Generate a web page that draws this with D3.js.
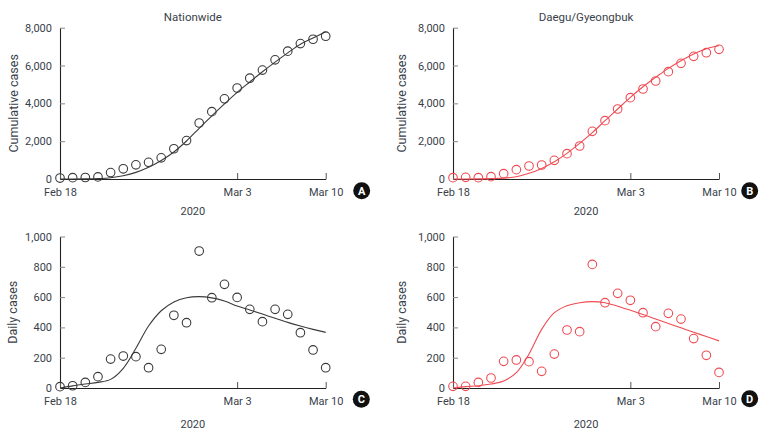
<!DOCTYPE html>
<html>
<head>
<meta charset="utf-8">
<script src="https://cdn.jsdelivr.net/npm/d3@7"></script>
<style>
  html, body { margin: 0; padding: 0; background: #fff; }
  svg { display: block; }
  text { font-family: Roboto, "Open Sans", sans-serif; fill: #3a3f4a; }
</style>
</head>
<body>
<svg id="chart" width="766" height="434"></svg>
<script>
// ---------- data ----------
const dates = ["2020-02-18","2020-02-19","2020-02-20","2020-02-21","2020-02-22","2020-02-23",
  "2020-02-24","2020-02-25","2020-02-26","2020-02-27","2020-02-28","2020-02-29","2020-03-01",
  "2020-03-02","2020-03-03","2020-03-04","2020-03-05","2020-03-06","2020-03-07","2020-03-08",
  "2020-03-09","2020-03-10"];
const xTickDates = ["2020-02-18", "2020-03-03", "2020-03-10"];
const xTickLabels = ["Feb 18", "Mar 3", "Mar 10"];
const cumTicks = [0, 2000, 4000, 6000, 8000];
const dailyTicks = [0, 200, 400, 600, 800, 1000];

// Nationwide
const nationCumObs = [50, 70, 80, 110, 340, 540, 750, 880, 1120, 1600, 2030, 2960, 3560, 4240,
  4810, 5330, 5760, 6300, 6760, 7160, 7390, 7550];
const nationCumFit = [0, 2, 8, 25, 70, 175, 350, 620, 980, 1430, 2010, 2680, 3340, 3970, 4580,
  5130, 5670, 6180, 6670, 7130, 7460, 7780];
const nationDailyObs = [9, 15, 37, 75, 191, 211, 207, 134, 255, 480, 431, 904, 596, 684, 598,
  519, 438, 519, 486, 365, 251, 134];
const nationDailyFit = [0, 14, 26, 37, 57, 130, 262, 409, 510, 568, 596, 603, 595, 574, 541,
  515, 488, 460, 433, 409, 387, 367];

// Daegu/Gyeongbuk
const daeguCumObs = [70, 88, 70, 123, 282, 493, 687, 740, 987, 1339, 1744, 2520, 3084, 3700,
  4300, 4758, 5181, 5674, 6115, 6485, 6678, 6855];
const daeguCumFit = [0, 2, 8, 20, 45, 120, 300, 560, 915, 1357, 1885, 2450, 3084, 3700, 4317,
  4880, 5374, 5850, 6256, 6608, 6890, 7050];
const daeguDailyObs = [11, 11, 37, 66, 176, 185, 174, 110, 224, 383, 372, 816, 563, 625, 579,
  497, 405, 493, 455, 326, 216, 103];
const daeguDailyFit = [0, 9, 15, 26, 46, 101, 224, 387, 497, 543, 563, 570, 563, 540, 513,
  485, 455, 426, 397, 368, 340, 311];

// ---------- drawing ----------
const svg = d3.select("#chart");
const parse = d3.utcParse("%Y-%m-%d");
const dateVals = dates.map(parse);
const textCol = "#3a3f4a";

function panel(o) {
  const g = svg.append("g");
  const x = d3.scaleUtc().domain([dateVals[0], dateVals[dateVals.length - 1]]).range([o.x0, o.x1]);
  const y = d3.scaleLinear().domain([0, o.yMax]).range([o.yBot, o.yTop]);

  // y axis (ticks pointing inward)
  const ya = g.append("g").attr("transform", `translate(${o.x0},0)`)
    .call(d3.axisLeft(y).tickValues(o.yTicks).tickSize(-5).tickSizeOuter(0).tickPadding(8)
      .tickFormat(d3.format(",")));
  ya.select(".domain").attr("stroke", "#222").attr("stroke-width", 1.1);
  ya.selectAll(".tick line").attr("stroke", "#888");
  ya.selectAll(".tick text").style("font-size", "11px").attr("fill", textCol);

  // x axis (ticks pointing inward)
  const xa = g.append("g").attr("transform", `translate(0,${o.yBot})`)
    .call(d3.axisBottom(x).tickValues(xTickDates.map(parse)).tickSize(-6).tickSizeOuter(0).tickPadding(9)
      .tickFormat((d, i) => xTickLabels[i]));
  xa.select(".domain").attr("stroke", "#222").attr("stroke-width", 1.1);
  xa.selectAll(".tick line").attr("stroke", "#555");
  xa.selectAll(".tick text").style("font-size", "11px").attr("fill", textCol);

  // title
  if (o.title) {
    g.append("text").attr("x", (o.x0 + o.x1) / 2).attr("y", o.titleY)
      .attr("text-anchor", "middle").style("font-size", "11.5px").text(o.title);
  }
  // x label
  g.append("text").attr("x", (o.x0 + o.x1) / 2).attr("y", o.xLabY)
    .attr("text-anchor", "middle").style("font-size", "11px").text("2020");
  // y label
  g.append("text").attr("transform", `translate(${o.yLabX},${(o.yTop + o.yBot) / 2}) rotate(-90)`)
    .attr("text-anchor", "middle").attr("dy", "0.35em").style("font-size", "12.5px").text(o.yLabel);

  // fitted curve
  const line = d3.line().x((d, i) => x(dateVals[i])).y(d => y(d)).curve(d3.curveCatmullRom.alpha(0.5));
  g.append("path").datum(o.fit).attr("d", line).attr("fill", "none")
    .attr("stroke", o.color).attr("stroke-width", 1.1);

  // observed points
  g.selectAll("circle.pt").data(o.obs).join("circle").attr("class", "pt")
    .attr("cx", (d, i) => x(dateVals[i])).attr("cy", d => y(d)).attr("r", 4.3)
    .attr("fill", "none").attr("stroke", o.color).attr("stroke-width", 1.1);

  // badge
  g.append("circle").attr("cx", o.badgeX).attr("cy", o.badgeY).attr("r", 8.5).attr("fill", "#111");
  g.append("text").attr("x", o.badgeX).attr("y", o.badgeY).attr("dy", "0.36em")
    .attr("text-anchor", "middle").style("font-size", "11px").style("font-weight", "bold")
    .style("fill", "#fff").text(o.badge);
}

const black = "#3a3a3a", red = "#ef4b53";

panel({ x0: 60, x1: 325.7, yTop: 27.7, yBot: 179, yMax: 8000, yTicks: cumTicks,
  obs: nationCumObs, fit: nationCumFit, color: black, title: "Nationwide", titleY: 21,
  xLabY: 214.5, yLabX: 13.5, yLabel: "Cumulative cases", badge: "A", badgeX: 361.7, badgeY: 190.7 });
panel({ x0: 453, x1: 719, yTop: 27.7, yBot: 179, yMax: 8000, yTicks: cumTicks,
  obs: daeguCumObs, fit: daeguCumFit, color: red, title: "Daegu/Gyeongbuk", titleY: 21,
  xLabY: 214.5, yLabX: 401.5, yLabel: "Cumulative cases", badge: "B", badgeX: 749.7, badgeY: 190.7 });
panel({ x0: 60, x1: 325.7, yTop: 236.5, yBot: 388, yMax: 1000, yTicks: dailyTicks,
  obs: nationDailyObs, fit: nationDailyFit, color: black, title: null,
  xLabY: 427.5, yLabX: 12.5, yLabel: "Daily cases", badge: "C", badgeX: 361.3, badgeY: 399.3 });
panel({ x0: 453, x1: 719, yTop: 236.5, yBot: 388, yMax: 1000, yTicks: dailyTicks,
  obs: daeguDailyObs, fit: daeguDailyFit, color: red, title: null,
  xLabY: 427.5, yLabX: 401.5, yLabel: "Daily cases", badge: "D", badgeX: 749.7, badgeY: 398.7 });
</script>
</body>
</html>
